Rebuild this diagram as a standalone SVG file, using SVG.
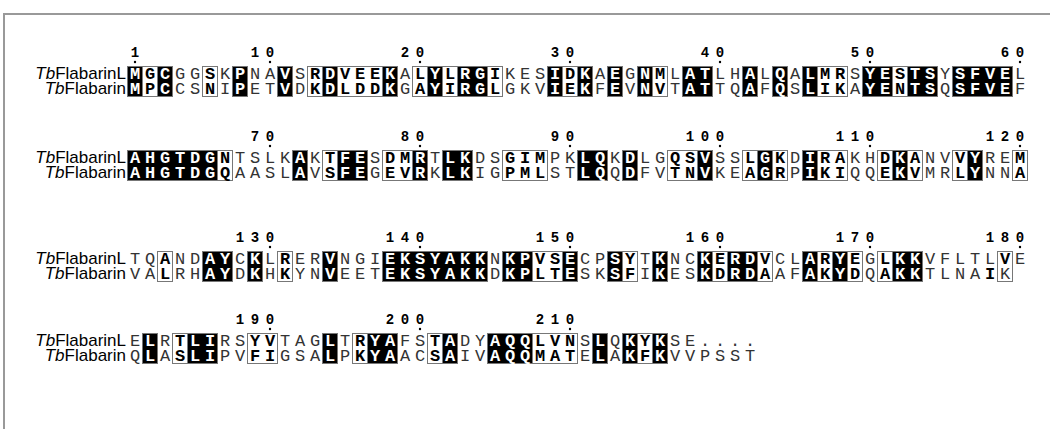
<svg xmlns="http://www.w3.org/2000/svg" width="1050" height="429" viewBox="0 0 1050 429">
<style>
.seq{font-family:"Liberation Mono",monospace;font-size:17px;letter-spacing:4.7983px;fill:#333}
.k{fill:#fff;font-weight:bold}
.f{fill:#000;font-weight:bold}
.lbl{font-family:"Liberation Sans",Arial,sans-serif;font-size:17px;text-anchor:end;fill:#000}
.num{font-family:"Liberation Mono",monospace;font-size:14px;font-weight:bold;text-anchor:middle;fill:#000}
.fr{fill:none;stroke:#777;stroke-width:1}
.bk{fill:#000}
.dot{fill:#000}
</style>
<rect width="1050" height="429" fill="#fff"/>
<path d="M4,429V14H1050" fill="none" stroke="#999" stroke-width="2"/>

<g id="block1" transform="translate(0,66.5)">
<g class="bk">
<rect x="127.5" y="0" width="15" height="30"/><rect x="157.5" y="0" width="15" height="30"/><rect x="232.5" y="0" width="15" height="30"/><rect x="277.5" y="0" width="15" height="30"/><rect x="322.5" y="0" width="15" height="30"/><rect x="382.5" y="0" width="15" height="30"/><rect x="427.5" y="0" width="15" height="30"/><rect x="457.5" y="0" width="30" height="30"/><rect x="547.5" y="0" width="15" height="30"/><rect x="577.5" y="0" width="15" height="30"/><rect x="607.5" y="0" width="15" height="30"/><rect x="637.5" y="0" width="15" height="30"/><rect x="682.5" y="0" width="30" height="30"/><rect x="742.5" y="0" width="15" height="30"/><rect x="772.5" y="0" width="15" height="30"/><rect x="802.5" y="0" width="15" height="30"/><rect x="862.5" y="0" width="30" height="30"/><rect x="907.5" y="0" width="30" height="30"/><rect x="952.5" y="0" width="60" height="30"/>
</g>
<g class="fr">
<rect x="127.5" y="0" width="45" height="30"/><rect x="202.5" y="0" width="15" height="30"/><rect x="232.5" y="0" width="15" height="30"/><rect x="277.5" y="0" width="15" height="30"/><rect x="307.5" y="0" width="90" height="30"/><rect x="412.5" y="0" width="90" height="30"/><rect x="547.5" y="0" width="45" height="30"/><rect x="607.5" y="0" width="15" height="30"/><rect x="637.5" y="0" width="30" height="30"/><rect x="682.5" y="0" width="30" height="30"/><rect x="742.5" y="0" width="15" height="30"/><rect x="772.5" y="0" width="15" height="30"/><rect x="802.5" y="0" width="45" height="30"/><rect x="862.5" y="0" width="75" height="30"/><rect x="952.5" y="0" width="60" height="30"/>
</g>
<text class="num" x="135" y="-9.5">1</text>
<text class="num" x="255 270" y="-9.5">10</text>
<text class="num" x="405 420" y="-9.5">20</text>
<text class="num" x="555 570" y="-9.5">30</text>
<text class="num" x="705 720" y="-9.5">40</text>
<text class="num" x="855 870" y="-9.5">50</text>
<text class="num" x="1005 1020" y="-9.5">60</text>
<g class="dot"><circle cx="135" cy="-4.5" r="1.2"/><circle cx="270" cy="-4.5" r="1.2"/><circle cx="420" cy="-4.5" r="1.2"/><circle cx="570" cy="-4.5" r="1.2"/><circle cx="720" cy="-4.5" r="1.2"/><circle cx="870" cy="-4.5" r="1.2"/><circle cx="1020" cy="-4.5" r="1.2"/></g>
<text class="lbl" x="126" y="12.5"><tspan font-style="italic">Tb</tspan>FlabarinL</text>
<text class="lbl" x="126" y="27.5"><tspan font-style="italic">Tb</tspan>Flabarin</text>
<text class="seq" x="129.9" y="12.5"><tspan class="k">M</tspan><tspan class="f">G</tspan><tspan class="k">C</tspan>GG<tspan class="f">S</tspan>K<tspan class="k">P</tspan>NA<tspan class="k">V</tspan>S<tspan class="f">R</tspan><tspan class="k">D</tspan><tspan class="f">VEE</tspan><tspan class="k">K</tspan>A<tspan class="f">L</tspan><tspan class="k">Y</tspan><tspan class="f">L</tspan><tspan class="k">RG</tspan><tspan class="f">I</tspan>KES<tspan class="k">I</tspan><tspan class="f">D</tspan><tspan class="k">K</tspan>A<tspan class="k">E</tspan>G<tspan class="k">N</tspan><tspan class="f">M</tspan>L<tspan class="k">AT</tspan>LH<tspan class="k">A</tspan>L<tspan class="k">Q</tspan>A<tspan class="k">L</tspan><tspan class="f">MR</tspan>S<tspan class="k">YE</tspan><tspan class="f">S</tspan><tspan class="k">TS</tspan>Y<tspan class="k">SFVE</tspan>L</text>
<text class="seq" x="129.9" y="27.5"><tspan class="k">M</tspan><tspan class="f">P</tspan><tspan class="k">C</tspan>CS<tspan class="f">N</tspan>I<tspan class="k">P</tspan>ET<tspan class="k">V</tspan>D<tspan class="f">K</tspan><tspan class="k">D</tspan><tspan class="f">LDD</tspan><tspan class="k">K</tspan>G<tspan class="f">A</tspan><tspan class="k">Y</tspan><tspan class="f">I</tspan><tspan class="k">RG</tspan><tspan class="f">L</tspan>GKV<tspan class="k">I</tspan><tspan class="f">E</tspan><tspan class="k">K</tspan>F<tspan class="k">E</tspan>V<tspan class="k">N</tspan><tspan class="f">V</tspan>T<tspan class="k">AT</tspan>TQ<tspan class="k">A</tspan>F<tspan class="k">Q</tspan>S<tspan class="k">L</tspan><tspan class="f">IK</tspan>A<tspan class="k">YE</tspan><tspan class="f">N</tspan><tspan class="k">TS</tspan>Q<tspan class="k">SFVE</tspan>F</text>
</g>

<g id="block2" transform="translate(0,150.5)">
<g class="bk">
<rect x="127.5" y="0" width="90" height="30"/><rect x="292.5" y="0" width="15" height="30"/><rect x="337.5" y="0" width="30" height="30"/><rect x="412.5" y="0" width="15" height="30"/><rect x="442.5" y="0" width="30" height="30"/><rect x="577.5" y="0" width="30" height="30"/><rect x="622.5" y="0" width="15" height="30"/><rect x="697.5" y="0" width="15" height="30"/><rect x="757.5" y="0" width="15" height="30"/><rect x="802.5" y="0" width="15" height="30"/><rect x="892.5" y="0" width="15" height="30"/><rect x="967.5" y="0" width="15" height="30"/>
</g>
<g class="fr">
<rect x="127.5" y="0" width="105" height="30"/><rect x="292.5" y="0" width="15" height="30"/><rect x="322.5" y="0" width="45" height="30"/><rect x="382.5" y="0" width="45" height="30"/><rect x="442.5" y="0" width="30" height="30"/><rect x="502.5" y="0" width="45" height="30"/><rect x="577.5" y="0" width="30" height="30"/><rect x="622.5" y="0" width="15" height="30"/><rect x="667.5" y="0" width="45" height="30"/><rect x="742.5" y="0" width="45" height="30"/><rect x="802.5" y="0" width="45" height="30"/><rect x="877.5" y="0" width="45" height="30"/><rect x="952.5" y="0" width="30" height="30"/><rect x="1012.5" y="0" width="15" height="30"/>
</g>
<text class="num" x="255 270" y="-9.5">70</text>
<text class="num" x="405 420" y="-9.5">80</text>
<text class="num" x="555 570" y="-9.5">90</text>
<text class="num" x="690 705 720" y="-9.5">100</text>
<text class="num" x="840 855 870" y="-9.5">110</text>
<text class="num" x="990 1005 1020" y="-9.5">120</text>
<g class="dot"><circle cx="270" cy="-4.5" r="1.2"/><circle cx="420" cy="-4.5" r="1.2"/><circle cx="570" cy="-4.5" r="1.2"/><circle cx="720" cy="-4.5" r="1.2"/><circle cx="870" cy="-4.5" r="1.2"/><circle cx="1020" cy="-4.5" r="1.2"/></g>
<text class="lbl" x="126" y="12.5"><tspan font-style="italic">Tb</tspan>FlabarinL</text>
<text class="lbl" x="126" y="27.5"><tspan font-style="italic">Tb</tspan>Flabarin</text>
<text class="seq" x="129.9" y="12.5"><tspan class="k">AHGTDG</tspan><tspan class="f">N</tspan>TSLK<tspan class="k">A</tspan>K<tspan class="f">T</tspan><tspan class="k">FE</tspan>S<tspan class="f">DM</tspan><tspan class="k">R</tspan>T<tspan class="k">LK</tspan>DS<tspan class="f">GIM</tspan>PK<tspan class="k">LQ</tspan>K<tspan class="k">D</tspan>LG<tspan class="f">QS</tspan><tspan class="k">V</tspan>SS<tspan class="f">L</tspan><tspan class="k">G</tspan><tspan class="f">K</tspan>D<tspan class="k">I</tspan><tspan class="f">RA</tspan>KH<tspan class="f">D</tspan><tspan class="k">K</tspan><tspan class="f">A</tspan>NV<tspan class="f">V</tspan><tspan class="k">Y</tspan>RE<tspan class="f">M</tspan></text>
<text class="seq" x="129.9" y="27.5"><tspan class="k">AHGTDG</tspan><tspan class="f">Q</tspan>AASL<tspan class="k">A</tspan>V<tspan class="f">S</tspan><tspan class="k">FE</tspan>G<tspan class="f">EV</tspan><tspan class="k">R</tspan>K<tspan class="k">LK</tspan>IG<tspan class="f">PML</tspan>ST<tspan class="k">LQ</tspan>Q<tspan class="k">D</tspan>FV<tspan class="f">TN</tspan><tspan class="k">V</tspan>KE<tspan class="f">A</tspan><tspan class="k">G</tspan><tspan class="f">R</tspan>P<tspan class="k">I</tspan><tspan class="f">KI</tspan>QQ<tspan class="f">E</tspan><tspan class="k">K</tspan><tspan class="f">V</tspan>MR<tspan class="f">L</tspan><tspan class="k">Y</tspan>NN<tspan class="f">A</tspan></text>
</g>

<g id="block3" transform="translate(0,251.5)">
<g class="bk">
<rect x="202.5" y="0" width="30" height="30"/><rect x="247.5" y="0" width="15" height="30"/><rect x="322.5" y="0" width="15" height="30"/><rect x="382.5" y="0" width="105" height="30"/><rect x="502.5" y="0" width="30" height="30"/><rect x="562.5" y="0" width="15" height="30"/><rect x="607.5" y="0" width="15" height="30"/><rect x="652.5" y="0" width="15" height="30"/><rect x="697.5" y="0" width="15" height="30"/><rect x="727.5" y="0" width="30" height="30"/><rect x="802.5" y="0" width="15" height="30"/><rect x="832.5" y="0" width="15" height="30"/><rect x="892.5" y="0" width="30" height="30"/>
</g>
<g class="fr">
<rect x="157.5" y="0" width="15" height="30"/><rect x="202.5" y="0" width="30" height="30"/><rect x="247.5" y="0" width="15" height="30"/><rect x="277.5" y="0" width="15" height="30"/><rect x="322.5" y="0" width="15" height="30"/><rect x="382.5" y="0" width="105" height="30"/><rect x="502.5" y="0" width="75" height="30"/><rect x="607.5" y="0" width="30" height="30"/><rect x="652.5" y="0" width="15" height="30"/><rect x="697.5" y="0" width="75" height="30"/><rect x="802.5" y="0" width="60" height="30"/><rect x="877.5" y="0" width="45" height="30"/><rect x="997.5" y="0" width="15" height="30"/>
</g>
<text class="num" x="240 255 270" y="-9.5">130</text>
<text class="num" x="390 405 420" y="-9.5">140</text>
<text class="num" x="540 555 570" y="-9.5">150</text>
<text class="num" x="690 705 720" y="-9.5">160</text>
<text class="num" x="840 855 870" y="-9.5">170</text>
<text class="num" x="990 1005 1020" y="-9.5">180</text>
<g class="dot"><circle cx="270" cy="-4.5" r="1.2"/><circle cx="420" cy="-4.5" r="1.2"/><circle cx="570" cy="-4.5" r="1.2"/><circle cx="720" cy="-4.5" r="1.2"/><circle cx="870" cy="-4.5" r="1.2"/><circle cx="1020" cy="-4.5" r="1.2"/></g>
<text class="lbl" x="126" y="12.5"><tspan font-style="italic">Tb</tspan>FlabarinL</text>
<text class="lbl" x="126" y="27.5"><tspan font-style="italic">Tb</tspan>Flabarin</text>
<text class="seq" x="129.9" y="12.5">TQ<tspan class="f">A</tspan>ND<tspan class="k">AY</tspan>C<tspan class="k">K</tspan>L<tspan class="f">R</tspan>ER<tspan class="k">V</tspan>NGI<tspan class="k">EKSYAKK</tspan>N<tspan class="k">KP</tspan><tspan class="f">VS</tspan><tspan class="k">E</tspan>CP<tspan class="k">S</tspan><tspan class="f">Y</tspan>T<tspan class="k">K</tspan>NC<tspan class="k">K</tspan><tspan class="f">E</tspan><tspan class="k">RD</tspan><tspan class="f">V</tspan>CL<tspan class="k">A</tspan><tspan class="f">R</tspan><tspan class="k">Y</tspan><tspan class="f">E</tspan>G<tspan class="f">L</tspan><tspan class="k">KK</tspan>VFLTL<tspan class="f">V</tspan>E</text>
<text class="seq" x="129.9" y="27.5">VA<tspan class="f">L</tspan>RH<tspan class="k">AY</tspan>D<tspan class="k">K</tspan>H<tspan class="f">K</tspan>YN<tspan class="k">V</tspan>EET<tspan class="k">EKSYAKK</tspan>D<tspan class="k">KP</tspan><tspan class="f">LT</tspan><tspan class="k">E</tspan>SK<tspan class="k">S</tspan><tspan class="f">F</tspan>I<tspan class="k">K</tspan>ES<tspan class="k">K</tspan><tspan class="f">D</tspan><tspan class="k">RD</tspan><tspan class="f">A</tspan>AF<tspan class="k">A</tspan><tspan class="f">K</tspan><tspan class="k">Y</tspan><tspan class="f">D</tspan>Q<tspan class="f">A</tspan><tspan class="k">KK</tspan>TLNA<tspan class="f">I</tspan>K</text>
</g>

<g id="block4" transform="translate(0,333.5)">
<g class="bk">
<rect x="142.5" y="0" width="15" height="30"/><rect x="187.5" y="0" width="30" height="30"/><rect x="322.5" y="0" width="15" height="30"/><rect x="367.5" y="0" width="30" height="30"/><rect x="442.5" y="0" width="15" height="30"/><rect x="487.5" y="0" width="45" height="30"/><rect x="592.5" y="0" width="15" height="30"/><rect x="622.5" y="0" width="15" height="30"/><rect x="652.5" y="0" width="15" height="30"/>
</g>
<g class="fr">
<rect x="142.5" y="0" width="15" height="30"/><rect x="172.5" y="0" width="45" height="30"/><rect x="247.5" y="0" width="30" height="30"/><rect x="322.5" y="0" width="15" height="30"/><rect x="352.5" y="0" width="45" height="30"/><rect x="427.5" y="0" width="30" height="30"/><rect x="487.5" y="0" width="90" height="30"/><rect x="592.5" y="0" width="15" height="30"/><rect x="622.5" y="0" width="45" height="30"/>
</g>
<text class="num" x="240 255 270" y="-9.5">190</text>
<text class="num" x="390 405 420" y="-9.5">200</text>
<text class="num" x="540 555 570" y="-9.5">210</text>
<g class="dot"><circle cx="270" cy="-4.5" r="1.2"/><circle cx="420" cy="-4.5" r="1.2"/><circle cx="570" cy="-4.5" r="1.2"/></g>
<text class="lbl" x="126" y="12.5"><tspan font-style="italic">Tb</tspan>FlabarinL</text>
<text class="lbl" x="126" y="27.5"><tspan font-style="italic">Tb</tspan>Flabarin</text>
<text class="seq" x="129.9" y="12.5">E<tspan class="k">L</tspan>R<tspan class="f">T</tspan><tspan class="k">LI</tspan>RS<tspan class="f">YV</tspan>TAG<tspan class="k">L</tspan>T<tspan class="f">R</tspan><tspan class="k">YA</tspan>FS<tspan class="f">T</tspan><tspan class="k">A</tspan>DY<tspan class="k">AQQ</tspan><tspan class="f">LVN</tspan>S<tspan class="k">L</tspan>Q<tspan class="k">K</tspan><tspan class="f">Y</tspan><tspan class="k">K</tspan>SE....</text>
<text class="seq" x="129.9" y="27.5">Q<tspan class="k">L</tspan>A<tspan class="f">S</tspan><tspan class="k">LI</tspan>PV<tspan class="f">FI</tspan>GSA<tspan class="k">L</tspan>P<tspan class="f">K</tspan><tspan class="k">YA</tspan>AC<tspan class="f">S</tspan><tspan class="k">A</tspan>IV<tspan class="k">AQQ</tspan><tspan class="f">MAT</tspan>E<tspan class="k">L</tspan>A<tspan class="k">K</tspan><tspan class="f">F</tspan><tspan class="k">K</tspan>VVPSST</text>
</g>
</svg>
